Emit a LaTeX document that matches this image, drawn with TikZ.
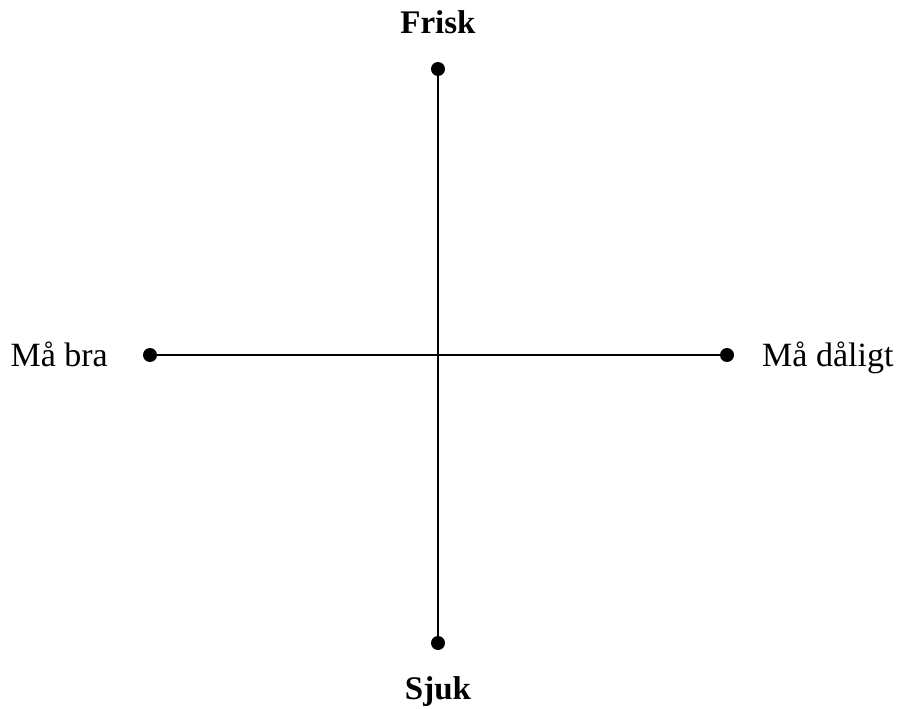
\documentclass[tikz,border=0pt]{standalone}
\usepackage{fontspec}
\setmainfont{Liberation Serif}
\begin{document}
\begin{tikzpicture}[x=1pt,y=-1pt,
  dot/.style={circle,fill=black,inner sep=0pt,minimum size=14pt},
  lbl/.style={inner sep=0pt,font=\fontsize{34}{36}\selectfont},
  axis/.style={line width=1.6pt}]
\useasboundingbox (0,0) rectangle (898,709);
\node[dot] (top) at (438,69) {};
\node[dot] (bot) at (438,643) {};
\node[dot] (left) at (150,355) {};
\node[dot] (right) at (727,355) {};
\draw[axis] (top.center) -- (bot.center);
\draw[axis] (left.center) -- (right.center);
\node[lbl,anchor=base,font=\fontsize{33}{36}\selectfont\bfseries] (frisk) at (438,34) {Frisk};
\node[lbl,anchor=base,font=\fontsize{33}{36}\selectfont\bfseries] (sjuk) at (438,699) {Sjuk};
\node[lbl,anchor=base east] (mabra) at (108,366) {Må bra};
\node[lbl,anchor=base west] (madaligt) at (762,366) {Må dåligt};
\end{tikzpicture}
\end{document}
